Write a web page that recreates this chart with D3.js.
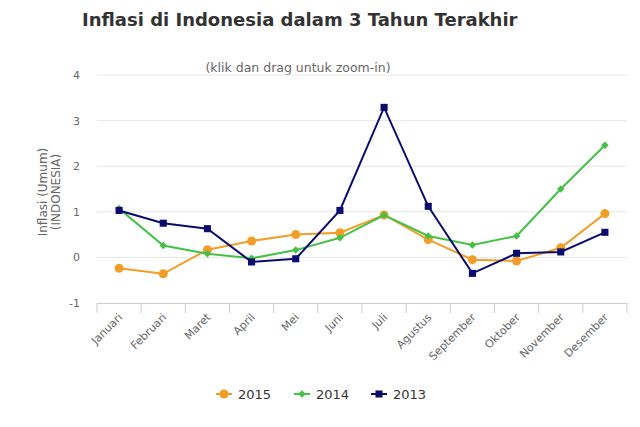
<!DOCTYPE html>
<meta charset="utf-8">
<html>
  <head>
    <script src="https://cdn.jsdelivr.net/npm/d3@7"></script>
    <style>
      body { margin: 0; background: #fff; }
      text { font-family: "DejaVu Sans", sans-serif; }
    </style>
  </head>
  <body>
    <div id="chart"></div>

    <script type="text/javascript">
      var months = ["Januari", "Februari", "Maret", "April", "Mei", "Juni", "Juli",
                    "Agustus", "September", "Oktober", "November", "Desember"];
      var years = ["2015", "2014", "2013"];
      var inf2015 = [-0.24, -0.36, 0.17, 0.36, 0.50, 0.54, 0.93, 0.39, -0.05, -0.08, 0.21, 0.96];
      var inf2014 = [1.07, 0.26, 0.08, -0.02, 0.16, 0.43, 0.93, 0.47, 0.27, 0.47, 1.50, 2.46];
      var inf2013 = [1.03, 0.75, 0.63, -0.10, -0.03, 1.03, 3.29, 1.12, -0.35, 0.09, 0.12, 0.55];
      var yTicks = [-1, 0, 1, 2, 3, 4];

      var width = 640, height = 427,
          margin = { top: 75, right: 10, bottom: 124, left: 97 };

      var series = [
        { name: years[0], values: inf2015, color: "#f29d27", symbol: d3.symbolCircle, size: 64 },
        { name: years[1], values: inf2014, color: "#46c046", symbol: d3.symbolDiamond2, size: 36 },
        { name: years[2], values: inf2013, color: "#0c0c6e", symbol: d3.symbolSquare2, size: 64 }
      ];

      var svg = d3.select("#chart").append("svg")
          .attr("width", width)
          .attr("height", height);

      var x = d3.scaleBand()
          .domain(months)
          .range([margin.left, width - margin.right - 3]);

      var y = d3.scaleLinear()
          .domain([-1, 4])
          .range([height - margin.bottom, margin.top]);

      // title
      svg.append("text")
          .attr("x", 82).attr("y", 26)
          .style("font-size", "18px")
          .style("font-weight", "bold")
          .style("fill", "#333")
          .text("Inflasi di Indonesia dalam 3 Tahun Terakhir");

      svg.append("text")
          .attr("x", 298).attr("y", 72)
          .attr("text-anchor", "middle")
          .style("font-size", "12.5px")
          .style("fill", "#666")
          .text("(klik dan drag untuk zoom-in)");

      // grid
      svg.append("g")
        .selectAll("line")
        .data(yTicks.filter(function(t){ return t > -1; }))
        .enter().append("line")
          .attr("x1", x.range()[0]).attr("x2", x.range()[1])
          .attr("y1", function(d){ return y(d); })
          .attr("y2", function(d){ return y(d); })
          .style("stroke", "#e6e6e6")
          .style("stroke-width", 1);

      // y labels
      svg.append("g")
        .selectAll("text")
        .data(yTicks)
        .enter().append("text")
          .attr("x", 80)
          .attr("y", function(d){ return y(d) + 4; })
          .attr("text-anchor", "end")
          .style("font-size", "11px")
          .style("fill", "#666")
          .text(function(d){ return d; });

      var yTitle = svg.append("text")
          .attr("transform", "translate(47,192) rotate(-90)")
          .attr("text-anchor", "middle")
          .style("font-size", "12px")
          .style("fill", "#666");
      yTitle.append("tspan").attr("x", 0).attr("dy", 0).text("Inflasi (Umum)");
      yTitle.append("tspan").attr("x", 0).attr("dy", 13).text("(INDONESIA)");

      // x axis
      var xAxis = d3.axisBottom(x).tickSize(0).tickFormat("");
      var gx = svg.append("g")
          .attr("transform", "translate(0," + y(-1) + ")")
          .call(xAxis);
      gx.select(".domain").style("stroke", "#ccc").attr("d", "M" + x.range()[0] + ",0.5H" + x.range()[1]);

      var bounds = months.map(function(m){ return x(m); }).concat([x.range()[1]]);
      gx.selectAll(".bound")
        .data(bounds)
        .enter().append("line")
          .attr("class", "bound")
          .attr("x1", function(d){ return d; }).attr("x2", function(d){ return d; })
          .attr("y1", 0).attr("y2", 10)
          .style("stroke", "#ccc");

      gx.selectAll(".mlabel")
        .data(months)
        .enter().append("text")
          .attr("class", "mlabel")
          .attr("text-anchor", "end")
          .attr("transform", function(d){
            return "translate(" + (x(d) + x.bandwidth() / 2 + 4) + ",15) rotate(-45)";
          })
          .style("font-size", "11px")
          .style("fill", "#666")
          .text(function(d){ return d; });

      // lines
      var line = d3.line()
          .x(function(d, i){ return x(months[i]) + x.bandwidth() / 2; })
          .y(function(d){ return y(d); });

      series.forEach(function(s){
        svg.append("path")
            .datum(s.values)
            .attr("d", line)
            .style("fill", "none")
            .style("stroke", s.color)
            .style("stroke-width", 2);

        svg.append("g")
          .selectAll("path")
          .data(s.values)
          .enter().append("path")
            .attr("d", d3.symbol().type(s.symbol).size(s.size))
            .attr("transform", function(d, i){
              return "translate(" + (x(months[i]) + x.bandwidth() / 2) + "," + y(d) + ")";
            })
            .style("fill", s.color);
      });

      // legend
      var legendX = [216, 294, 371];
      var legend = svg.append("g")
        .selectAll("g")
        .data(series)
        .enter().append("g")
          .attr("transform", function(d, i){ return "translate(" + legendX[i] + ",394)"; });

      legend.append("line")
          .attr("x1", 0).attr("x2", 16)
          .style("stroke", function(d){ return d.color; })
          .style("stroke-width", 2);
      legend.append("path")
          .attr("d", function(d){ return d3.symbol().type(d.symbol).size(d.size)(); })
          .attr("transform", "translate(8,0)")
          .style("fill", function(d){ return d.color; });
      legend.append("text")
          .attr("x", 22).attr("y", 5)
          .style("font-size", "13px")
          .style("fill", "#333")
          .text(function(d){ return d.name; });
    </script>
  </body>
</html>
